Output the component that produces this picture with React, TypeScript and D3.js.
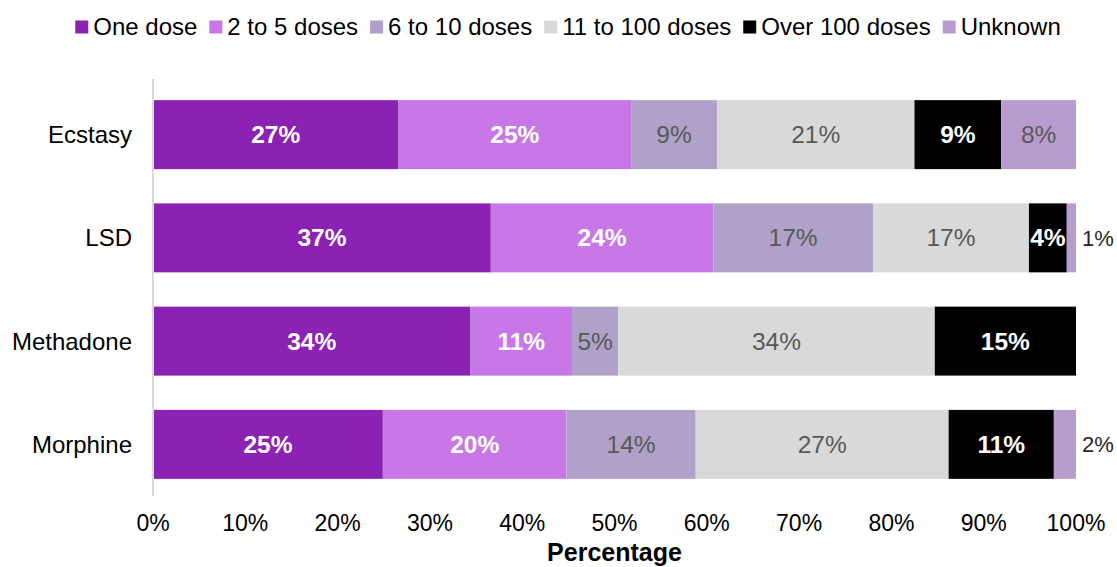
import React, { useRef, useEffect } from "react";
import * as d3 from "d3";

const drugs = ["Ecstasy", "LSD", "Methadone", "Morphine"];
const seriesNames = ["One dose", "2 to 5 doses", "6 to 10 doses", "11 to 100 doses", "Over 100 doses", "Unknown"];
const seriesColors = ["#8b22b4", "#c878e6", "#b0a1c8", "#d9d9d9", "#000000", "#b99ccf"];

const oneDose = [26.6, 36.6, 34.4, 24.9];
const twoToFive = [25.2, 24.1, 11.0, 19.9];
const sixToTen = [9.3, 17.3, 5.0, 14.0];
const elevenToHundred = [21.4, 16.9, 34.3, 27.4];
const overHundred = [9.4, 4.1, 15.3, 11.4];
const unknown = [8.1, 1.0, 0, 2.4];

const xTicks = [0, 10, 20, 30, 40, 50, 60, 70, 80, 90, 100];

// white bold labels on the dark segments
const boldWhite = [true, true, false, false, true, false];

interface Row {
  drug: string;
  [key: string]: number | string;
}

const App: React.FC = () => {
  const ref = useRef<SVGSVGElement>(null);
  const width = 1117;
  const height = 567;

  useEffect(() => {
    const svg = d3.select(ref.current);
    svg.selectAll("*").remove();

    const font = "'Liberation Sans', Arial, sans-serif";
    const values = [oneDose, twoToFive, sixToTen, elevenToHundred, overHundred, unknown];
    const rows: Row[] = drugs.map((drug, i) => {
      const r: Row = { drug };
      seriesNames.forEach((s, j) => (r[s] = values[j][i]));
      return r;
    });

    const stacked = d3.stack<Row>().keys(seriesNames)(rows);

    const x = d3.scaleLinear().domain([0, 100]).range([153, 1076]);
    const y = d3
      .scaleBand()
      .domain(drugs)
      .range([83, 496])
      .paddingInner(0.332)
      .paddingOuter(0.166);

    // bars
    const layers = svg
      .append("g")
      .selectAll("g")
      .data(stacked)
      .join("g")
      .attr("fill", (_d, i) => seriesColors[i]);

    layers
      .selectAll("rect")
      .data((d) => d.map((v) => ({ v, key: d.key })))
      .join("rect")
      .attr("x", (d) => x(d.v[0]))
      .attr("y", (d) => y(d.v.data.drug as string) || 0)
      .attr("width", (d) => x(d.v[1]) - x(d.v[0]))
      .attr("height", y.bandwidth());

    // data labels
    stacked.forEach((layer, si) => {
      layer.forEach((v) => {
        const val = v[1] - v[0];
        if (val <= 0) return;
        const cy = (y(v.data.drug as string) || 0) + y.bandwidth() / 2;
        const outside = val < 3;
        svg
          .append("text")
          .attr("x", outside ? x(v[1]) + 6 : (x(v[0]) + x(v[1])) / 2)
          .attr("y", cy)
          .attr("dy", "0.35em")
          .attr("text-anchor", outside ? "start" : "middle")
          .attr("font-family", font)
          .attr("font-size", outside ? 22 : 24.5)
          .attr("font-weight", boldWhite[si] && !outside ? "bold" : "normal")
          .attr("fill", outside ? "#262626" : boldWhite[si] ? "#ffffff" : "#595959")
          .text(`${Math.round(val)}%`);
      });
    });

    // vertical axis line
    svg
      .append("line")
      .attr("x1", x(0))
      .attr("x2", x(0))
      .attr("y1", 79)
      .attr("y2", 496)
      .attr("stroke", "#d9d9d9")
      .attr("stroke-width", 2);

    // category labels
    svg
      .append("g")
      .selectAll("text")
      .data(drugs)
      .join("text")
      .attr("x", 132)
      .attr("y", (d) => (y(d) || 0) + y.bandwidth() / 2)
      .attr("dy", "0.35em")
      .attr("text-anchor", "end")
      .attr("font-family", font)
      .attr("font-size", 24)
      .attr("fill", "#000")
      .text((d) => d);

    // x tick labels
    svg
      .append("g")
      .selectAll("text")
      .data(xTicks)
      .join("text")
      .attr("x", (d) => x(d))
      .attr("y", 523)
      .attr("dy", "0.35em")
      .attr("text-anchor", "middle")
      .attr("font-family", font)
      .attr("font-size", 23)
      .attr("fill", "#000")
      .text((d) => `${d}%`);

    svg
      .append("text")
      .attr("x", (x(0) + x(100)) / 2)
      .attr("y", 552)
      .attr("dy", "0.35em")
      .attr("text-anchor", "middle")
      .attr("font-family", font)
      .attr("font-size", 25)
      .attr("font-weight", "bold")
      .attr("fill", "#000")
      .text("Percentage");

    // legend, measured then centred
    const legend = svg.append("g");
    const sq = 13;
    const gapText = 5;
    const gapItem = 12;
    let cursor = 0;
    seriesNames.forEach((name, i) => {
      const item = legend.append("g").attr("transform", `translate(${cursor},0)`);
      item
        .append("rect")
        .attr("x", 0)
        .attr("y", -sq / 2)
        .attr("width", sq)
        .attr("height", sq)
        .attr("fill", seriesColors[i]);
      const t = item
        .append("text")
        .attr("x", sq + gapText)
        .attr("y", 0)
        .attr("dy", "0.35em")
        .attr("font-family", font)
        .attr("font-size", 24)
        .attr("fill", "#000")
        .text(name);
      const w = (t.node() as SVGTextElement).getComputedTextLength();
      cursor += sq + gapText + w + gapItem;
    });
    const total = cursor - gapItem;
    legend.attr("transform", `translate(${568 - total / 2},27)`);
  });

  return (
    <svg
      ref={ref}
      width={width}
      height={height}
      style={{ position: "absolute", left: 0, top: 0, background: "#fff" }}
    ></svg>
  );
};

export default App;
